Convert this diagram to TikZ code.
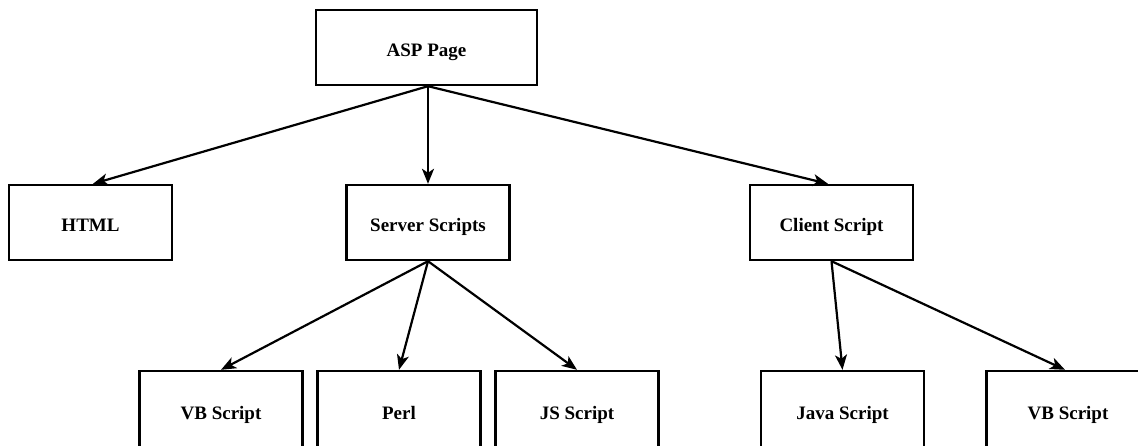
\documentclass[tikz,border=0pt]{standalone}
\usepackage{fontspec}
\setmainfont{Liberation Serif}
\usetikzlibrary{arrows.meta}
\begin{document}
\begin{tikzpicture}[x=1pt,y=1pt,
  box/.style={draw=black, line width=2.4pt, fill=white, rectangle,
    minimum width=163pt, minimum height=75pt, inner sep=0pt,
    text height=18.5pt, text depth=0pt,
    font=\fontsize{19}{22}\selectfont\bfseries},
  lowbox/.style={box, minimum height=80pt, text height=16pt},
  arr/.style={line width=2.2pt, -{Stealth[length=15pt,width=12pt,inset=4pt]}}]
\useasboundingbox (0,0) rectangle (1138,445);
\fill[white] (0,0) rectangle (1138,445);
% top level
\node[box, minimum width=221pt] (asp) at (426.5,397.5) {ASP Page};
% second level
\node[box] (html) at (90.5,222.5) {HTML};
\node[box] (server) at (428,222.5) {Server Scripts};
\node[box] (client) at (831.5,222.5) {Client Script};
% third level (runs off the lower edge)
\node[lowbox] (vb1) at (221,34) {VB Script};
\node[lowbox] (perl) at (399,34) {Perl};
\node[lowbox] (js) at (577,34) {JS Script};
\node[lowbox] (java) at (842.5,34) {Java Script};
\node[lowbox] (vb2) at (1068,34) {VB Script};
% connectors
\draw[arr] ([xshift=1.5pt]asp.south) -- ([xshift=2.5pt]html.north);
\draw[arr] ([xshift=1.5pt]asp.south) -- (server.north);
\draw[arr] ([xshift=1.5pt]asp.south) -- ([xshift=-3.5pt]client.north);
\draw[arr] (server.south) -- (vb1.north);
\draw[arr] (server.south) -- (perl.north);
\draw[arr] (server.south) -- (js.north);
\draw[arr] (client.south) -- (java.north);
\draw[arr] (client.south) -- ([xshift=-3pt]vb2.north);
\end{tikzpicture}
\end{document}
